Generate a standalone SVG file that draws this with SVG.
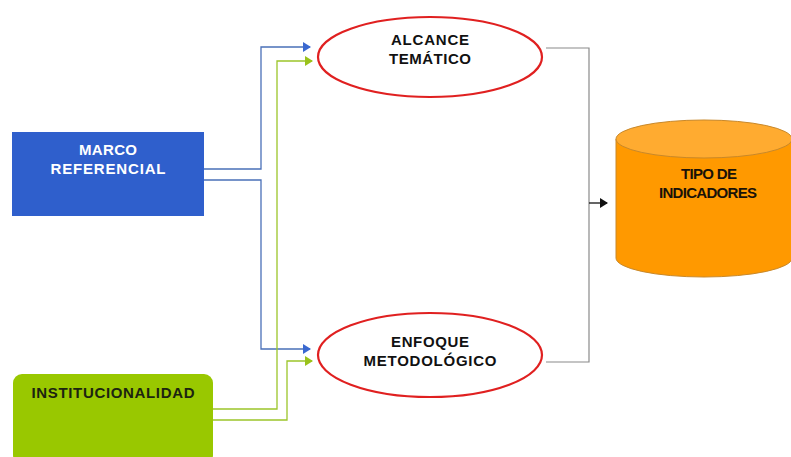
<svg xmlns="http://www.w3.org/2000/svg" width="791" height="457" viewBox="0 0 791 457">
  <defs>
    <marker id="arrBlue" markerWidth="8" markerHeight="10" refX="7" refY="5" orient="auto" markerUnits="userSpaceOnUse">
      <path d="M0,0 L8,5 L0,10 Z" fill="#3a68d0"/>
    </marker>
    <marker id="arrGreen" markerWidth="8" markerHeight="10" refX="7" refY="5" orient="auto" markerUnits="userSpaceOnUse">
      <path d="M0,0 L8,5 L0,10 Z" fill="#9ac21a"/>
    </marker>
    <marker id="arrBlack" markerWidth="8" markerHeight="10" refX="7" refY="5" orient="auto" markerUnits="userSpaceOnUse">
      <path d="M0,0 L8,5 L0,10 Z" fill="#111"/>
    </marker>
  </defs>
  <style>
    .lbl { font-family: "Liberation Sans", Arial, sans-serif; font-weight: bold; font-size: 15px; text-anchor: middle; }
    .blue { fill: none; stroke: #4a70b8; stroke-width: 1.3; }
    .green { fill: none; stroke: #9cc52a; stroke-width: 1.3; }
    .gray { fill: none; stroke: #8a8a8a; stroke-width: 1.2; }
    .oval { fill: #ffffff; stroke: #e02020; stroke-width: 2.2; }
  </style>
  <rect width="791" height="457" fill="#ffffff"/>

  <!-- connectors -->
  <g id="connectors">
    <path class="blue" d="M204,169 H261 V47 H310" marker-end="url(#arrBlue)"/>
    <path class="blue" d="M204,180 H261 V349 H310" marker-end="url(#arrBlue)"/>
    <path class="green" d="M213,409 H277 V61 H312" marker-end="url(#arrGreen)"/>
    <path class="green" d="M213,420 H287 V361 H312" marker-end="url(#arrGreen)"/>
    <path class="gray" d="M546,48 H589 V362 H546"/>
    <path d="M589,203 H607" fill="none" stroke="#111" stroke-width="1.3" marker-end="url(#arrBlack)"/>
  </g>

  <g id="marco">
    <rect x="12" y="132" width="192" height="84" fill="#2f5fcc"/>
    <text class="lbl" x="108" y="155" fill="#ffffff" textLength="58" lengthAdjust="spacing">MARCO</text>
    <text class="lbl" x="108" y="174" fill="#ffffff" textLength="115" lengthAdjust="spacing">REFERENCIAL</text>
  </g>

  <g id="institucionalidad">
    <rect x="13" y="374" width="200" height="90" rx="9" fill="#99c800"/>
    <text class="lbl" x="113" y="398" fill="#1c2410" textLength="163" lengthAdjust="spacing">INSTITUCIONALIDAD</text>
  </g>

  <g id="alcance">
    <ellipse class="oval" cx="430" cy="57" rx="112" ry="40"/>
    <text class="lbl" x="430" y="45" fill="#111" textLength="78" lengthAdjust="spacing">ALCANCE</text>
    <text class="lbl" x="430" y="64" fill="#111" textLength="82" lengthAdjust="spacing">TEMÁTICO</text>
  </g>

  <g id="enfoque">
    <ellipse class="oval" cx="430" cy="355" rx="112" ry="42"/>
    <text class="lbl" x="430" y="347" fill="#111" textLength="78" lengthAdjust="spacing">ENFOQUE</text>
    <text class="lbl" x="430" y="366" fill="#111" textLength="133" lengthAdjust="spacing">METODOLÓGICO</text>
  </g>

  <g id="tipo">
    <path d="M616,139 V258 A88,19 0 0 0 792,258 V139" fill="#ff9900" stroke="#c8882a" stroke-width="1"/>
    <ellipse cx="704" cy="139" rx="88" ry="19" fill="#ffab30" stroke="#c8882a" stroke-width="1"/>
    <text class="lbl" x="709" y="179" fill="#1a1208" textLength="56" lengthAdjust="spacing">TIPO DE</text>
    <text class="lbl" x="708" y="198" fill="#1a1208" textLength="98" lengthAdjust="spacing">INDICADORES</text>
  </g>
</svg>
